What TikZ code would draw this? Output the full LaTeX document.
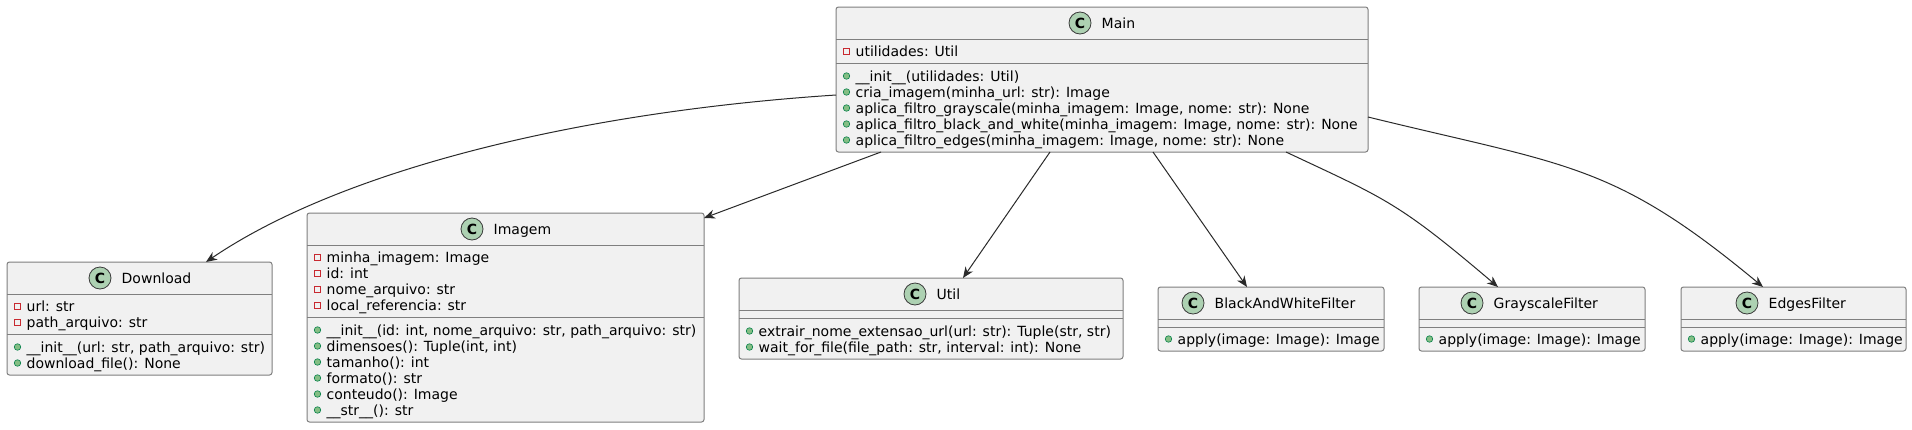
\documentclass[tikz,border=0pt]{standalone}
\usepackage{fontspec}
\setmainfont{DejaVu Sans}
\usetikzlibrary{arrows.meta}
\definecolor{boxfill}{HTML}{F1F1F1}
\definecolor{boxline}{HTML}{7F7F7F}
\definecolor{arrowc}{HTML}{2A2A2A}
\definecolor{badgefill}{HTML}{ADD1B2}
\definecolor{badgeline}{HTML}{3A3A3A}
\definecolor{privred}{HTML}{C82930}
\definecolor{pubfill}{HTML}{84BE84}
\definecolor{publine}{HTML}{038048}
\newcommand{\rowfont}{\fontsize{14}{16}\selectfont}
\newcommand{\badgefont}{\fontsize{14}{16}\selectfont\bfseries}
% #1 name, #2 left x, #3 baseline y, #4 text
\newcommand{\privrow}[4]{%
  \node[privicon] (#1i) at (#2+10.5,#3-5) {};
  \node[rowtext] (#1) at (#2+19.5,#3) {#4};}
\newcommand{\pubrow}[4]{%
  \node[pubicon] (#1i) at (#2+10.5,#3-5) {};
  \node[rowtext] (#1) at (#2+19.5,#3) {#4};}
% #1 name, #2 badge x, #3 top y, #4 text
\newcommand{\classtitle}[4]{%
  \node[badge] (#1C) at (#2,#3+16) {C};
  \node[titletext] (#1N) at (#2+21.5,#3+21) {#4};}
\tikzset{
  classbox/.style={draw=boxline, fill=boxfill, rounded corners=2.5pt, line width=1pt,
    inner sep=0, outer sep=0, anchor=north west},
  sepline/.style={draw=boxline, line width=1pt},
  rowtext/.style={anchor=base west, inner sep=0, font=\rowfont, text=black},
  titletext/.style={anchor=base west, inner sep=0, font=\rowfont, text=black},
  privicon/.style={rectangle, draw=privred, fill=none, minimum size=6pt, inner sep=0, line width=0.9pt},
  pubicon/.style={circle, draw=publine, fill=pubfill, minimum size=6.5pt, inner sep=0, line width=0.6pt},
  badge/.style={circle, draw=badgeline, fill=badgefill, minimum size=22pt, inner sep=0,
    line width=0.8pt, font=\badgefont, text=black},
  assoc/.style={draw=arrowc, line width=1pt, -{Stealth[length=11pt, width=9pt, inset=3.5pt]}},
}
\begin{document}
\begin{tikzpicture}[x=1pt, y=-1pt]
\useasboundingbox (0,0) rectangle (1912,429);
\fill[white] (0,0) rectangle (1912,429);

% ---------------- Main ----------------
\node[classbox, minimum width=532pt, minimum height=145pt] (main) at (836,7) {};
\draw[sepline] (836,39) -- (1368,39);
\draw[sepline] (836,63) -- (1368,63);
\classtitle{main}{1080}{7}{Main}
\privrow{mainA}{836}{56}{utilidades: Util}
\pubrow{mainM1}{836}{81}{\_\_init\_\_(utilidades: Util)}
\pubrow{mainM2}{836}{97}{cria\_imagem(minha\_url: str): Image}
\pubrow{mainM3}{836}{113}{aplica\_filtro\_grayscale(minha\_imagem: Image, nome: str): None}
\pubrow{mainM4}{836}{129}{aplica\_filtro\_black\_and\_white(minha\_imagem: Image, nome: str): None}
\pubrow{mainM5}{836}{145}{aplica\_filtro\_edges(minha\_imagem: Image, nome: str): None}

% ---------------- Download ----------------
\node[classbox, minimum width=265pt, minimum height=113pt] (download) at (7,262) {};
\draw[sepline] (7,294) -- (272,294);
\draw[sepline] (7,334) -- (272,334);
\classtitle{download}{100}{262}{Download}
\privrow{downloadA1}{7}{311}{url: str}
\privrow{downloadA2}{7}{327}{path\_arquivo: str}
\pubrow{downloadM1}{7}{352}{\_\_init\_\_(url: str, path\_arquivo: str)}
\pubrow{downloadM2}{7}{368}{download\_file(): None}

% ---------------- Imagem ----------------
\node[classbox, minimum width=397pt, minimum height=209pt] (imagem) at (307,213) {};
\draw[sepline] (307,245) -- (704,245);
\draw[sepline] (307,317) -- (704,317);
\classtitle{imagem}{472}{213}{Imagem}
\privrow{imagemA1}{307}{262}{minha\_imagem: Image}
\privrow{imagemA2}{307}{278}{id: int}
\privrow{imagemA3}{307}{294}{nome\_arquivo: str}
\privrow{imagemA4}{307}{310}{local\_referencia: str}
\pubrow{imagemM1}{307}{335}{\_\_init\_\_(id: int, nome\_arquivo: str, path\_arquivo: str)}
\pubrow{imagemM2}{307}{351}{dimensoes(): Tuple(int, int)}
\pubrow{imagemM3}{307}{367}{tamanho(): int}
\pubrow{imagemM4}{307}{383}{formato(): str}
\pubrow{imagemM5}{307}{399}{conteudo(): Image}
\pubrow{imagemM6}{307}{415}{\_\_str\_\_(): str}

% ---------------- Util ----------------
\node[classbox, minimum width=384pt, minimum height=81pt] (util) at (739,278) {};
\draw[sepline] (739,310) -- (1123,310);
\draw[sepline] (739,318) -- (1123,318);
\classtitle{util}{915}{278}{Util}
\pubrow{utilM1}{739}{336}{extrair\_nome\_extensao\_url(url: str): Tuple(str, str)}
\pubrow{utilM2}{739}{352}{wait\_for\_file(file\_path: str, interval: int): None}

% ---------------- BlackAndWhiteFilter ----------------
\node[classbox, minimum width=226pt, minimum height=64pt] (bw) at (1158,287) {};
\draw[sepline] (1158,319) -- (1384,319);
\draw[sepline] (1158,327) -- (1384,327);
\classtitle{bw}{1193}{287}{BlackAndWhiteFilter}
\pubrow{bwM1}{1158}{344}{apply(image: Image): Image}

% ---------------- GrayscaleFilter ----------------
\node[classbox, minimum width=226pt, minimum height=64pt] (gray) at (1419,287) {};
\draw[sepline] (1419,319) -- (1645,319);
\draw[sepline] (1419,327) -- (1645,327);
\classtitle{gray}{1472}{287}{GrayscaleFilter}
\pubrow{grayM1}{1419}{344}{apply(image: Image): Image}

% ---------------- EdgesFilter ----------------
\node[classbox, minimum width=225pt, minimum height=64pt] (edges) at (1681,287) {};
\draw[sepline] (1681,319) -- (1906,319);
\draw[sepline] (1681,327) -- (1906,327);
\classtitle{edges}{1747}{287}{EdgesFilter}
\pubrow{edgesM1}{1681}{344}{apply(image: Image): Image}

% ---------------- Associations ----------------
\draw[assoc] (main.west |- 0,95) .. controls (566,112.8) and (336,173.6) .. (download.north -| 206,0);
\draw[assoc] (main.south -| 881,0) -- (imagem.east |- 0,218);
\draw[assoc] (main.south -| 1050,0) -- (util.north -| 963,0);
\draw[assoc] (main.south -| 1153,0) -- (bw.north -| 1247,0);
\draw[assoc] (main.south -| 1286,0) .. controls (1386,199) and (1398,202) .. (gray.north -| 1498,0);
\draw[assoc] (main.east |- 0,117) .. controls (1568,166) and (1613,162.5) .. (edges.north -| 1763,0);
\end{tikzpicture}
\end{document}
